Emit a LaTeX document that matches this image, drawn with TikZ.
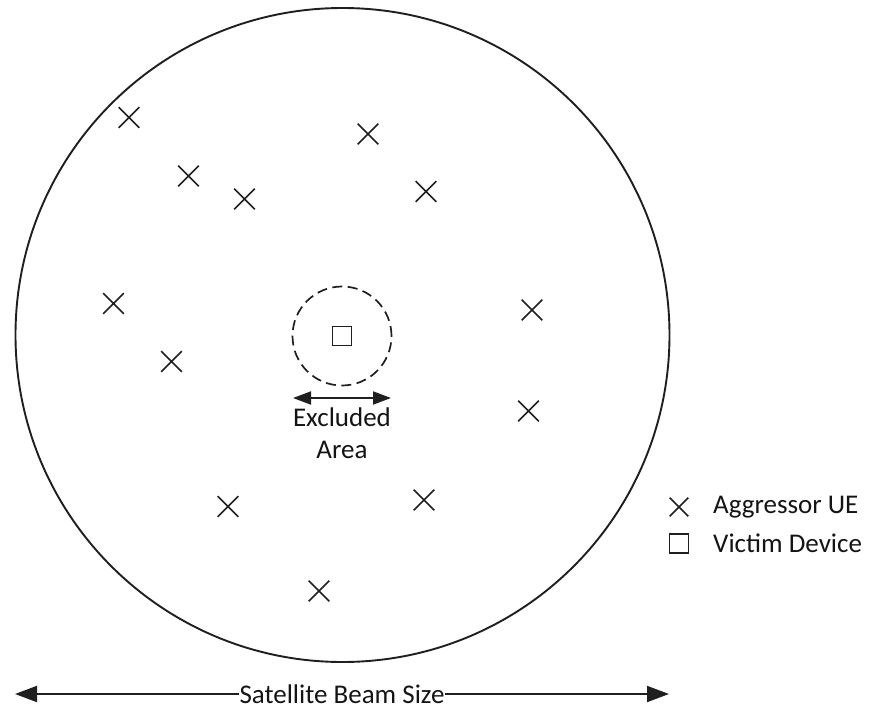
\documentclass[tikz,border=0pt]{standalone}
\usepackage{fontspec}
\setmainfont{Carlito}
\usetikzlibrary{shapes.misc,arrows.meta}
\begin{document}
\begin{tikzpicture}[x=1pt,y=-1pt,
  ink/.style={draw=black!88},
  ue/.style={cross out, ink, line width=1.7pt, minimum size=19pt, inner sep=0pt},
  victim/.style={rectangle, ink, line width=1.6pt, minimum size=19pt, inner sep=0pt},
  lbl/.style={font=\fontsize{27}{32}\selectfont, text=black!92, inner sep=1pt},
  dim/.style={ink, line width=1.9pt},
]
\useasboundingbox (0,0) rectangle (870,709);
% satellite beam
\node[circle, ink, line width=1.9pt, minimum size=654pt, inner sep=0pt] (beam) at (342.5,335) {};
% excluded area
\node[circle, ink, dashed, dash pattern=on 10pt off 5.5pt, line width=1.7pt, minimum size=99pt, inner sep=0pt] (excl) at (342,336) {};
\node[victim] (vic) at (342,336) {};
\coordinate (exl) at (293,398);
\coordinate (exr) at (391,398);
\draw[dim, {Triangle[length=18pt,width=13pt]}-{Triangle[length=18pt,width=13pt]}] (exl) -- (exr);
\node[lbl] (exlbl1) at (342,417) {Excluded};
\node[lbl] (exlbl2) at (342,450) {Area};
% aggressor UEs
\node[ue] (u1) at (129,117.5) {};
\node[ue] (u2) at (368,134) {};
\node[ue] (u3) at (188.5,176) {};
\node[ue] (u4) at (244.5,199) {};
\node[ue] (u5) at (426,191.5) {};
\node[ue] (u6) at (113.5,303.5) {};
\node[ue] (u7) at (532,310) {};
\node[ue] (u8) at (171.5,361.5) {};
\node[ue] (u9) at (528.5,411) {};
\node[ue] (u10) at (228,506.5) {};
\node[ue] (u11) at (424,500) {};
\node[ue] (u12) at (319,591) {};
% legend
\node[ue, minimum size=17pt] (lgue) at (679,507) {};
\node[lbl, anchor=west] (lguetxt) at (712,507) {Aggressor UE};
\node[victim] (lgvic) at (679,543.5) {};
\node[lbl, anchor=west] (lgvictxt) at (712,543) {Victim Device};
% beam size dimension
\node[lbl, inner sep=0pt] (bslbl) at (342,694) {Satellite Beam Size};
\coordinate (bsl) at (15,694);
\coordinate (bsr) at (669,694);
\draw[dim, {Triangle[length=22pt,width=16pt]}-] (bsl) -- (bslbl.west);
\draw[dim, -{Triangle[length=22pt,width=16pt]}] (bslbl.east) -- (bsr);
\end{tikzpicture}
\end{document}
